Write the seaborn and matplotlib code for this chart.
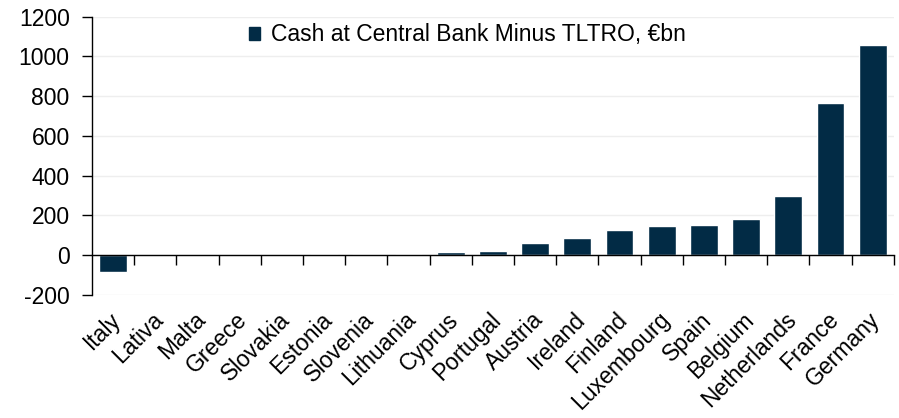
import matplotlib
matplotlib.use("Agg")
import matplotlib.pyplot as plt
import matplotlib.transforms as mtransforms
import seaborn as sns
import pandas as pd
import numpy as np
from matplotlib.patches import Patch

countries = ["Italy", "Lativa", "Malta", "Greece", "Slovakia", "Estonia", "Slovenia",
             "Lithuania", "Cyprus", "Portugal", "Austria", "Ireland", "Finland",
             "Luxembourg", "Spain", "Belgium", "Netherlands", "France", "Germany"]
values = [-85, 1, 2, 3, 3, 4, 8, 8, 15, 23, 62, 88, 128, 148, 150, 182, 296, 765, 1060]
y_ticks = [-200, 0, 200, 400, 600, 800, 1000, 1200]
series_label = "Cash at Central Bank Minus TLTRO, €bn"

sns.set_theme(style="white")
plt.rcParams['font.family'] = ['Liberation Sans', 'DejaVu Sans']
plt.rcParams['text.color'] = 'black'

df = pd.DataFrame({"country": countries, "value": values})
bar_color = "#022B45"
fs = 16.5

fig = plt.figure(figsize=(8.99, 4.18), dpi=100)
ax = fig.add_axes([0.1023, 0.2943, 0.892, 0.6657])

sns.barplot(data=df, x="country", y="value", color=bar_color, width=0.66,
            saturation=1, ax=ax, zorder=3)

ax.set_ylim(-200, 1200)
ax.set_xlim(-0.5, len(countries) - 0.5)
ax.set_yticks(y_ticks)
ax.set_yticklabels([str(v) for v in y_ticks], fontsize=fs)
ax.set_xlabel("")
ax.set_ylabel("")

for y in y_ticks:
    ax.axhline(y, color="#eeeeee", lw=1, zorder=0)

for s in ["top", "right"]:
    ax.spines[s].set_visible(False)
ax.spines["left"].set_color("black")
ax.spines["left"].set_linewidth(1)
ax.spines["bottom"].set_position(("data", 0))
ax.spines["bottom"].set_color("black")
ax.spines["bottom"].set_linewidth(1)
ax.spines["bottom"].set_zorder(4)

ax.tick_params(axis="y", which="major", direction="out", length=7, width=1,
               color="black", left=True, pad=9, labelcolor="black")
ax.set_xticks(np.arange(len(countries)))
ax.set_xticklabels(countries, rotation=45, ha="right", rotation_mode="anchor",
                   fontsize=fs, color="black")
ax.tick_params(axis="x", which="major", length=0, pad=38)
ax.set_xticks(np.arange(len(countries)) + 0.5, minor=True)
ax.tick_params(axis="x", which="minor", direction="out", length=7, width=1,
               color="black", bottom=True)

offset = mtransforms.ScaledTranslation(-4 / 100, 0, fig.dpi_scale_trans)
for lbl in ax.get_xticklabels():
    lbl.set_transform(lbl.get_transform() + offset)

handle = Patch(facecolor=bar_color, edgecolor=bar_color)
ax.legend([handle], [series_label], loc="center", bbox_to_anchor=(0.468, 0.935),
          frameon=False, fontsize=fs, handlelength=0.5, handleheight=0.5,
          handletextpad=0.45, labelcolor="black")

fig.savefig("out.png", dpi=100)
